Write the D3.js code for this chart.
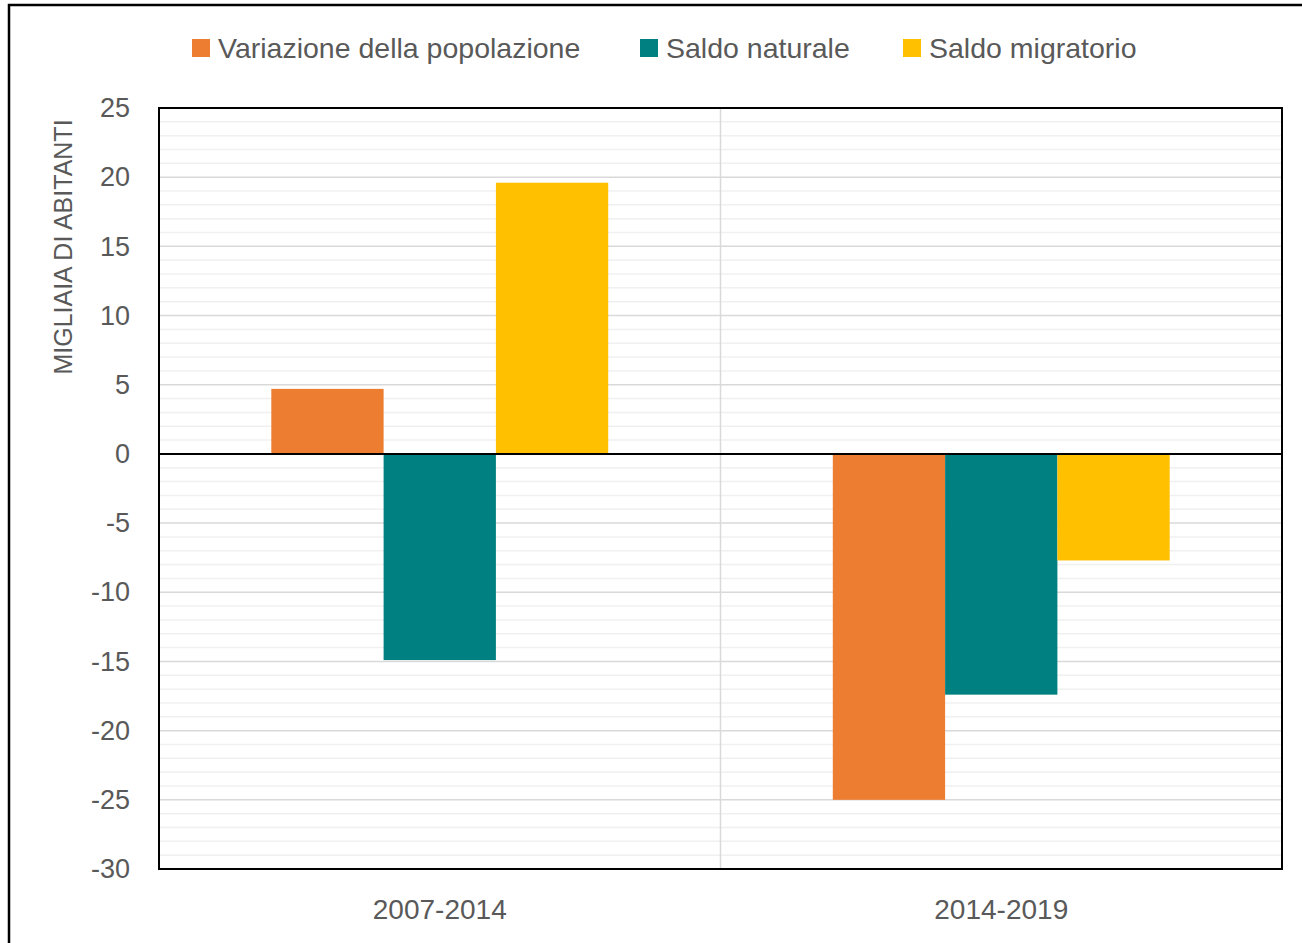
<!DOCTYPE html>
<html>
<head>
<meta charset="utf-8">
<script src="https://cdn.jsdelivr.net/npm/d3@7"></script>
<style>
  body { margin: 0; background: #fff; }
  text { font-family: "Liberation Sans", Arial, sans-serif; fill: #595959; }
</style>
</head>
<body>
<script>
// data (migliaia di abitanti)
var periods = ['2007-2014', '2014-2019'];
var seriesNames = ['Variazione della popolazione', 'Saldo naturale', 'Saldo migratorio'];
var variazione = [4.7, -25.0];
var naturale = [-14.9, -17.4];
var migratorio = [19.6, -7.7];
var yTicks = [25, 20, 15, 10, 5, 0, -5, -10, -15, -20, -25, -30];
var colors = ['#ED7D31', '#008080', '#FFC000'];

var width = 1302, height = 943;
var plot = { left: 159, right: 1282, top: 108, bottom: 869 };

var values = [variazione, naturale, migratorio];
var rows = [];
periods.forEach(function(p, i) {
	values.forEach(function(v, s) {
		rows.push({ period: p, series: seriesNames[s], value: v[i], s: s });
	});
});

var svg = d3.select('body').append('svg')
	.attr('width', width)
	.attr('height', height);

// outer chart frame (continues past the right/bottom edges)
svg.append('rect')
	.attr('x', 9).attr('y', 5)
	.attr('width', width + 20).attr('height', height + 20)
	.attr('fill', 'none').attr('stroke', '#000').attr('stroke-width', 2.5);

var y = d3.scaleLinear()
	.domain([-30, 25])
	.range([plot.bottom, plot.top]);

var x0 = d3.scaleBand()
	.domain(periods)
	.range([plot.left, plot.right]);

// bars take 3/5 of the band, one bar-width gap on each side
var x1 = d3.scaleBand()
	.domain(seriesNames)
	.range([x0.bandwidth() / 5, x0.bandwidth() * 4 / 5]);

// minor gridlines every unit
svg.append('g').selectAll('line')
	.data(d3.range(-30, 26, 1).filter(function(d) { return d % 5 != 0; }))
	.enter().append('line')
		.attr('x1', plot.left).attr('x2', plot.right)
		.attr('y1', function(d) { return y(d); })
		.attr('y2', function(d) { return y(d); })
		.attr('stroke', '#f0f0f0').attr('stroke-width', 1.5);

// major gridlines
svg.append('g').selectAll('line')
	.data(yTicks)
	.enter().append('line')
		.attr('x1', plot.left).attr('x2', plot.right)
		.attr('y1', function(d) { return y(d); })
		.attr('y2', function(d) { return y(d); })
		.attr('stroke', '#d9d9d9').attr('stroke-width', 1.5);

// vertical separator between categories
svg.append('line')
	.attr('x1', x0(periods[1])).attr('x2', x0(periods[1]))
	.attr('y1', plot.top).attr('y2', plot.bottom)
	.attr('stroke', '#d9d9d9').attr('stroke-width', 1.5);

// bars
svg.append('g').selectAll('rect')
	.data(rows)
	.enter().append('rect')
		.attr('x', function(d) { return x0(d.period) + x1(d.series); })
		.attr('width', x1.bandwidth())
		.attr('y', function(d) { return y(Math.max(0, d.value)); })
		.attr('height', function(d) { return Math.abs(y(d.value) - y(0)); })
		.attr('fill', function(d) { return colors[d.s]; });

// zero line
svg.append('line')
	.attr('x1', plot.left).attr('x2', plot.right)
	.attr('y1', y(0)).attr('y2', y(0))
	.attr('stroke', '#000').attr('stroke-width', 2);

// plot frame
svg.append('rect')
	.attr('x', plot.left).attr('y', plot.top)
	.attr('width', plot.right - plot.left).attr('height', plot.bottom - plot.top)
	.attr('fill', 'none').attr('stroke', '#000').attr('stroke-width', 2);

// y axis labels (plain hyphen for negatives, like the original)
var yAxis = d3.axisLeft(y).tickValues(yTicks).tickSize(0).tickPadding(29)
	.tickFormat(function(d) { return String(d); });
var gy = svg.append('g')
	.attr('transform', 'translate(' + plot.left + ',0)')
	.call(yAxis);
gy.select('.domain').remove();
gy.selectAll('text')
	.style('font-family', '"Liberation Sans", Arial, sans-serif')
	.style('font-size', '27px')
	.attr('fill', '#595959');

// x axis labels
var xAxis = d3.axisBottom(x0).tickSize(0).tickPadding(30);
var gx = svg.append('g')
	.attr('transform', 'translate(0,' + plot.bottom + ')')
	.call(xAxis);
gx.select('.domain').remove();
gx.selectAll('text')
	.style('font-family', '"Liberation Sans", Arial, sans-serif')
	.style('font-size', '28px')
	.attr('fill', '#595959');

// y axis title
svg.append('text')
	.attr('transform', 'translate(72,247) rotate(-90)')
	.attr('text-anchor', 'middle')
	.style('font-size', '25px')
	.text('MIGLIAIA DI ABITANTI');

// legend
var legendX = [192, 640, 903];
var legend = svg.append('g').selectAll('g')
	.data(seriesNames)
	.enter().append('g')
		.attr('transform', function(d, i) { return 'translate(' + legendX[i] + ',39)'; });
legend.append('rect')
	.attr('width', 18).attr('height', 18)
	.attr('fill', function(d, i) { return colors[i]; });
legend.append('text')
	.attr('x', 26).attr('y', 9)
	.attr('dy', '0.35em')
	.style('font-size', '28.5px')
	.text(function(d) { return d; });
</script>
</body>
</html>
